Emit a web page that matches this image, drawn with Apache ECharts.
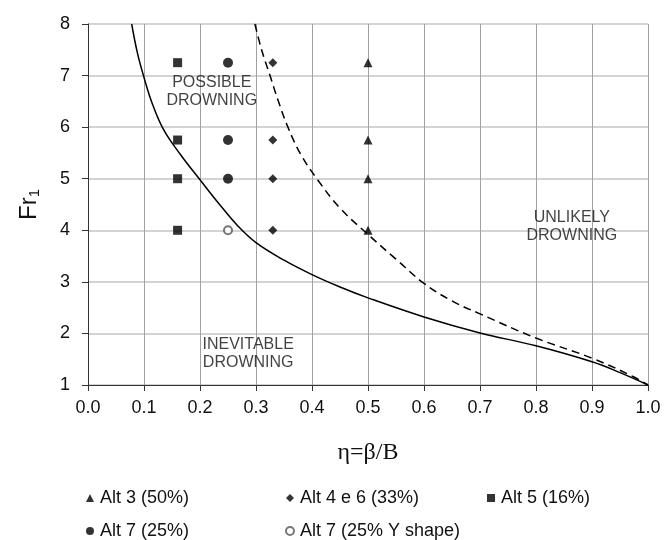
<!DOCTYPE html>
<html>
<head>
<meta charset="utf-8">
<script src="https://cdn.jsdelivr.net/npm/echarts@6/dist/echarts.min.js"></script>
<style>
  html, body { margin: 0; padding: 0; background: #fff; }
  #chart { width: 664px; height: 540px; }
</style>
</head>
<body>
<div id="chart"></div>
<script>
// boundary curves: [eta, Fr1]
const inevitableLimit = [
  [0.078, 8.0], [0.088, 7.45], [0.099, 7.0], [0.115, 6.45], [0.135, 5.95],
  [0.165, 5.47], [0.2, 4.98], [0.235, 4.5], [0.268, 4.08], [0.3, 3.76],
  [0.35, 3.42], [0.4, 3.14], [0.45, 2.9], [0.5, 2.69], [0.6, 2.32],
  [0.7, 2.01], [0.8, 1.76], [0.9, 1.45], [0.95, 1.24], [1.0, 1.0]
];
const unlikelyLimit = [
  [0.298, 8.0], [0.31, 7.5], [0.325, 7.0], [0.34, 6.5], [0.357, 6.0],
  [0.38, 5.47], [0.41, 4.98], [0.45, 4.43], [0.5, 3.92], [0.55, 3.44],
  [0.6, 2.97], [0.65, 2.63], [0.7, 2.38], [0.8, 1.91], [0.9, 1.52],
  [0.974, 1.16], [1.0, 1.0]
];

// tested alternatives
const alt3 = [[0.5, 7.25], [0.5, 5.75], [0.5, 5.0], [0.5, 4.0]];
const alt4e6 = [[0.33, 7.25], [0.33, 5.75], [0.33, 5.0], [0.33, 4.0]];
const alt5 = [[0.16, 7.25], [0.16, 5.75], [0.16, 5.0], [0.16, 4.0]];
const alt7 = [[0.25, 7.25], [0.25, 5.75], [0.25, 5.0]];
const alt7Y = [[0.25, 4.0]];

// region labels
const regionLabels = [
  { name: 'POSSIBLE\nDROWNING', value: [0.221, 6.68] },
  { name: 'UNLIKELY\nDROWNING', value: [0.864, 4.08] },
  { name: 'INEVITABLE\nDROWNING', value: [0.286, 1.6] }
];

const font = '"Liberation Sans", Arial, sans-serif';
const chart = echarts.init(document.getElementById('chart'));

function scatter(name, data, symbol, size, style) {
  return {
    name: name,
    type: 'scatter',
    data: data,
    symbol: symbol,
    symbolSize: size,
    itemStyle: style || { color: '#000' },
    z: 5
  };
}

function curve(name, data, dash) {
  return {
    name: name,
    type: 'line',
    data: data,
    smooth: 0.4,
    showSymbol: false,
    silent: true,
    lineStyle: { color: '#000', width: 1.5, type: dash || 'solid' },
    z: 3
  };
}

const legendBase = {
  orient: 'vertical',
  top: 489,
  height: 70,
  itemGap: 15,
  itemWidth: 8,
  itemHeight: 8,
  padding: 0,
  selectedMode: false,
  textStyle: { fontFamily: font, fontSize: 18, color: '#111', padding: [0, 0, 0, 1] }
};

chart.setOption({
  animation: false,
  backgroundColor: '#fff',
  grid: { left: 88, right: 16, top: 24, bottom: 155 },
  xAxis: {
    type: 'value',
    min: 0,
    max: 1,
    interval: 0.1,
    name: 'η=β/B',
    nameLocation: 'middle',
    nameGap: 56,
    nameTextStyle: { fontFamily: '"Liberation Serif", "DejaVu Serif", serif', fontSize: 24, color: '#111' },
    axisLine: { lineStyle: { color: '#333', width: 1 } },
    axisTick: { show: true, length: 6, lineStyle: { color: '#333' } },
    axisLabel: {
      margin: 14,
      fontFamily: font,
      fontSize: 18,
      color: '#111',
      formatter: v => v.toFixed(1)
    },
    splitLine: { show: true, lineStyle: { color: '#a0a0a0', width: 1 } }
  },
  yAxis: {
    type: 'value',
    min: 1,
    max: 8,
    interval: 1,
    name: '{a|Fr}{b|1}',
    nameLocation: 'middle',
    nameGap: 46,
    nameTextStyle: {
      rich: {
        a: { fontFamily: font, fontSize: 24, color: '#111' },
        b: { fontFamily: font, fontSize: 15, color: '#111', verticalAlign: 'bottom', padding: [10, 0, 0, 0] }
      }
    },
    axisLine: { show: true, lineStyle: { color: '#333', width: 1 } },
    axisTick: { show: true, length: 6, lineStyle: { color: '#333' } },
    axisLabel: { margin: 18, fontFamily: font, fontSize: 18, color: '#111' },
    splitLine: { show: true, lineStyle: { color: '#c4c4c4', width: 1.5 } }
  },
  legend: [
    Object.assign({}, legendBase, {
      left: 86,
      data: [{ name: 'Alt 3 (50%)', icon: 'triangle' }, { name: 'Alt 7 (25%)', icon: 'circle' }]
    }),
    Object.assign({}, legendBase, {
      left: 285,
      data: [{ name: 'Alt 4 e 6 (33%)', icon: 'diamond' }, { name: 'Alt 7 (25% Y shape)', icon: 'emptyCircle' }]
    }),
    Object.assign({}, legendBase, {
      left: 487,
      data: [{ name: 'Alt 5 (16%)', icon: 'rect' }]
    })
  ],
  series: [
    curve('inevitable', inevitableLimit),
    curve('unlikely', unlikelyLimit, [8, 5]),
    scatter('Alt 3 (50%)', alt3, 'triangle', 9),
    scatter('Alt 4 e 6 (33%)', alt4e6, 'diamond', 9),
    scatter('Alt 5 (16%)', alt5, 'rect', 9),
    scatter('Alt 7 (25%)', alt7, 'circle', 10),
    scatter('Alt 7 (25% Y shape)', alt7Y, 'emptyCircle', 8, { color: '#555', borderWidth: 1 }),
    {
      name: 'regions',
      type: 'scatter',
      data: regionLabels,
      symbolSize: 0,
      silent: true,
      label: {
        show: true,
        position: 'inside',
        formatter: '{b}',
        fontFamily: font,
        fontSize: 16,
        lineHeight: 18,
        color: '#111',
        align: 'center'
      },
      z: 4
    }
  ]
});
</script>
</body>
</html>
